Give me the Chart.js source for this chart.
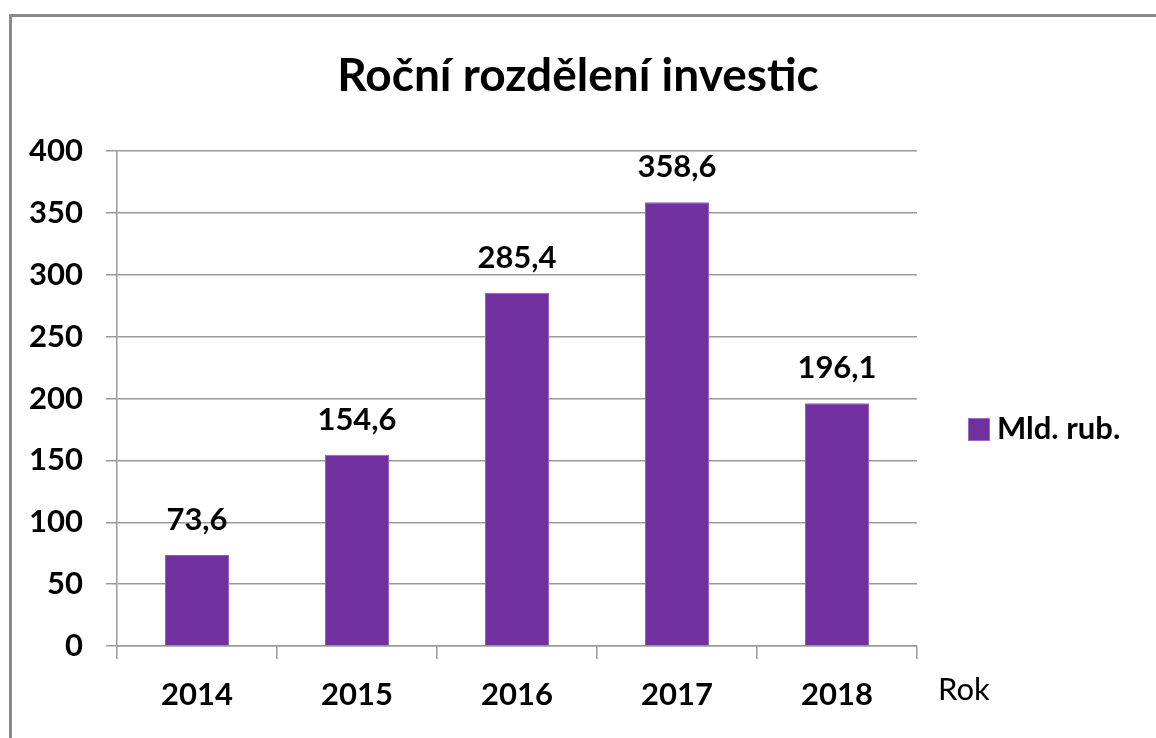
<!DOCTYPE html>
<html>
<head>
<meta charset="utf-8">
<script src="https://cdn.jsdelivr.net/npm/chart.js@4"></script>
<style>
  html, body { margin: 0; padding: 0; background: #fff; }
  #wrap { position: relative; width: 1156px; height: 738px; overflow: hidden; }
  #frame { position: absolute; left: 9px; top: 14px; width: 1200px; height: 800px;
           border-left: 3px solid #8a8a8a; border-top: 3px solid #8a8a8a; }
  canvas { position: absolute; left: 0; top: 0; }
</style>
</head>
<body>
<div id="wrap">
  <div id="frame"></div>
  <canvas id="c" width="1156" height="738"></canvas>
</div>
<script>
const chartTitle = 'Roční rozdělení investic';
const categories = ['2014', '2015', '2016', '2017', '2018'];
const seriesLabel = 'Mld. rub.';
const values = [73.6, 154.6, 285.4, 358.6, 196.1];
const yMin = 0;
const yMax = 400;
const yStep = 50;
const xAxisTitle = 'Rok';

const FONT = 'Lato, "Open Sans", sans-serif';
const BAR = '#7030A0';
const GRID = '#9a9a9a';

const extras = {
  id: 'extras',
  afterDatasetsDraw(chart) {
    const ctx = chart.ctx;
    const meta = chart.getDatasetMeta(0);
    ctx.save();
    // data labels
    ctx.fillStyle = '#000';
    ctx.font = 'bold 31px ' + FONT;
    ctx.textAlign = 'center';
    ctx.textBaseline = 'alphabetic';
    meta.data.forEach((bar, i) => {
      const txt = values[i].toFixed(1).replace('.', ',');
      ctx.fillText(txt, bar.x, bar.y - 25);
    });
    // legend
    const ca = chart.chartArea;
    const lx = 968, ly = 430;
    ctx.fillStyle = BAR;
    ctx.fillRect(lx, ly - 12, 22, 23);
    ctx.strokeStyle = '#9b6cc4';
    ctx.lineWidth = 1;
    ctx.strokeRect(lx + 0.5, ly - 11.5, 21, 22);
    ctx.fillStyle = '#000';
    ctx.textAlign = 'left';
    ctx.textBaseline = 'middle';
    ctx.font = 'bold 31px ' + FONT;
    ctx.fillText(seriesLabel, lx + 29, ly - 1);
    // axis title
    ctx.font = '31px ' + FONT;
    ctx.fillText(xAxisTitle, ca.right + 21, 690);
    ctx.restore();
  }
};

new Chart(document.getElementById('c'), {
  type: 'bar',
  data: {
    labels: categories,
    datasets: [{
      label: seriesLabel,
      data: values,
      backgroundColor: BAR,
      borderColor: '#8f62bb',
      borderWidth: 1,
      barPercentage: 0.4,
      categoryPercentage: 1.0,
      yAxisID: 'y'
    }]
  },
  options: {
    responsive: false,
    animation: false,
    devicePixelRatio: 1,
    layout: { padding: { left: 0, right: 0, top: 0, bottom: 0 } },
    plugins: {
      legend: { display: false },
      tooltip: { enabled: false },
      title: {
        display: true,
        text: chartTitle,
        color: '#000',
        font: { family: FONT, size: 46, weight: 'bold', lineHeight: 1.2 },
        padding: { top: 49, bottom: 46.8 }
      }
    },
    scales: {
      x: {
        grid: {
          display: true,
          offset: true,
          drawOnChartArea: false,
          drawTicks: true,
          tickLength: 13,
          color: GRID,
          lineWidth: 1.5
        },
        border: { display: true, color: GRID, width: 1.5 },
        ticks: {
          color: '#000',
          font: { family: FONT, size: 31, weight: 'bold' },
          padding: 17,
          maxRotation: 0
        },
        afterFit(scale) { scale.height = 92; }
      },
      y: {
        position: 'left',
        min: yMin,
        max: yMax,
        grid: {
          color: GRID,
          lineWidth: 1.5,
          drawTicks: true,
          tickLength: 11
        },
        border: { display: true, color: GRID, width: 1.5 },
        ticks: {
          stepSize: yStep,
          color: '#000',
          font: { family: FONT, size: 31, weight: 'bold' },
          padding: 23
        },
        afterFit(scale) { scale.width = 117; }
      },
      spacer: {
        position: 'right',
        display: true,
        grid: { display: false, drawTicks: false },
        border: { display: false },
        ticks: { display: false },
        afterFit(scale) { scale.width = 239; }
      }
    }
  },
  plugins: [extras]
});
</script>
</body>
</html>
